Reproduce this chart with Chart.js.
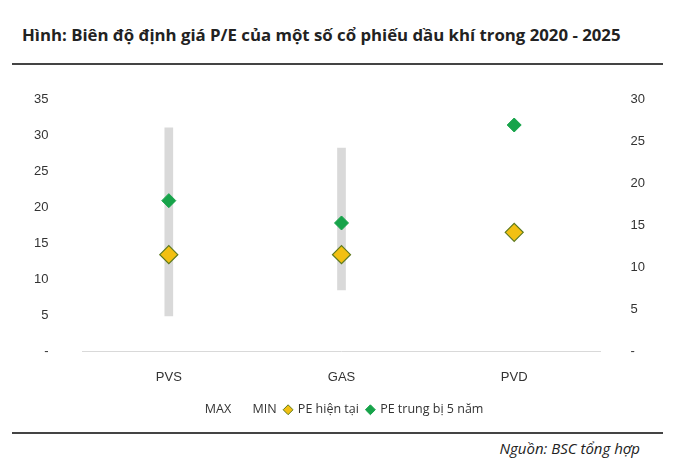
<!DOCTYPE html>
<html>
<head>
<meta charset="utf-8">
<script src="https://cdn.jsdelivr.net/npm/chart.js@4/dist/chart.umd.min.js"></script>
<style>
    body { margin: 0; background: #fff; font-family: "Open Sans", sans-serif; }
    #title { position: absolute; left: 22px; top: 23px; font-size: 16.8px; font-weight: bold; color: #222; }
    #topLine { position: absolute; left: 12px; top: 63px; width: 651px; height: 2px; background: #444; }
    #bottomLine { position: absolute; left: 12px; top: 432px; width: 651px; height: 2px; background: #444; }
    #source { position: absolute; right: 38px; top: 438px; font-size: 15px; font-style: italic; color: #222; }
    #wrap { position: absolute; left: 8px; top: 66px; width: 659px; height: 360px; }
</style>
</head>
<body>
<div id="title">Hình: Biên độ định giá P/E của một số cổ phiếu dầu khí trong 2020 - 2025</div>
<div id="topLine"></div>
<div id="wrap"><canvas id="chart"></canvas></div>
<div id="bottomLine"></div>
<div id="source">Nguồn: BSC tổng hợp</div>
<script>
const categories = ['PVS', 'GAS', 'PVD'];
const maxValues = [31.1, 28.3, null];
const minValues = [5.0, 8.6, null];
const peCurrent = [13.5, 13.5, 16.6];
const peAvg5y = [21.0, 17.9, 31.5];
const leftTicks = [0, 5, 10, 15, 20, 25, 30, 35];

function initChart() {
    const ranges = categories.map((c, i) => maxValues[i] == null ? null : [minValues[i], maxValues[i]]);

    new Chart(document.getElementById('chart'), {
        data: {
            labels: categories,
            datasets: [
                {
                    type: 'line', label: 'PE hiện tại', data: peCurrent,
                    showLine: false, pointStyle: 'rectRot', pointRadius: 9, pointHoverRadius: 9,
                    backgroundColor: '#f2c012', borderColor: '#5e7a1e', borderWidth: 1.2, order: 0
                },
                {
                    type: 'line', label: 'PE trung bị 5 năm', data: peAvg5y,
                    showLine: false, pointStyle: 'rectRot', pointRadius: 7, pointHoverRadius: 7,
                    backgroundColor: '#17a34a', borderColor: '#17a34a', borderWidth: 1, order: 0
                },
                {
                    type: 'bar', label: 'MAX', data: ranges,
                    backgroundColor: '#d9d9d9', barThickness: 8, order: 1
                }
            ]
        },
        options: {
            responsive: true,
            maintainAspectRatio: false,
            animation: false,
            layout: { padding: { left: 0, right: 0, top: 10 } },
            plugins: {
                tooltip: { enabled: false },
                legend: {
                    position: 'bottom',
                    labels: {
                        color: '#333', font: { size: 12.5, family: 'Open Sans' },
                        usePointStyle: true, boxWidth: 7, boxHeight: 7, padding: 8,
                        generateLabels: function (chart) {
                            const ds = chart.data.datasets;
                            return [
                                { text: 'MAX', fillStyle: 'rgba(0,0,0,0)', strokeStyle: 'rgba(0,0,0,0)', pointStyle: 'circle', fontColor: '#333' },
                                { text: 'MIN', fillStyle: 'rgba(0,0,0,0)', strokeStyle: 'rgba(0,0,0,0)', pointStyle: 'circle', fontColor: '#333' },
                                { text: ds[0].label, fillStyle: '#f2c012', strokeStyle: '#5e7a1e', lineWidth: 1, pointStyle: 'rectRot', fontColor: '#333' },
                                { text: ds[1].label, fillStyle: '#17a34a', strokeStyle: '#17a34a', lineWidth: 1, pointStyle: 'rectRot', fontColor: '#333' }
                            ];
                        }
                    }
                }
            },
            scales: {
                x: {
                    grid: { display: false },
                    border: { color: '#d9d9d9' },
                    ticks: { color: '#333', font: { size: 13 }, padding: 10 }
                },
                y: {
                    position: 'left', min: 0, max: 35,
                    afterBuildTicks: function (axis) { axis.ticks = leftTicks.map(v => ({ value: v })); },
                    grid: { display: false }, border: { display: false },
                    ticks: { color: '#333', font: { size: 13 }, padding: 26, callback: v => v === 0 ? '-' : v }
                },
                y2: {
                    position: 'right', min: 0, max: 30,
                    ticks: { stepSize: 5, color: '#333', font: { size: 13 }, padding: 22, callback: v => v === 0 ? '-' : v },
                    grid: { display: false }, border: { display: false }
                }
            }
        }
    });
}

window.addEventListener('load', initChart);
</script>
</body>
</html>
